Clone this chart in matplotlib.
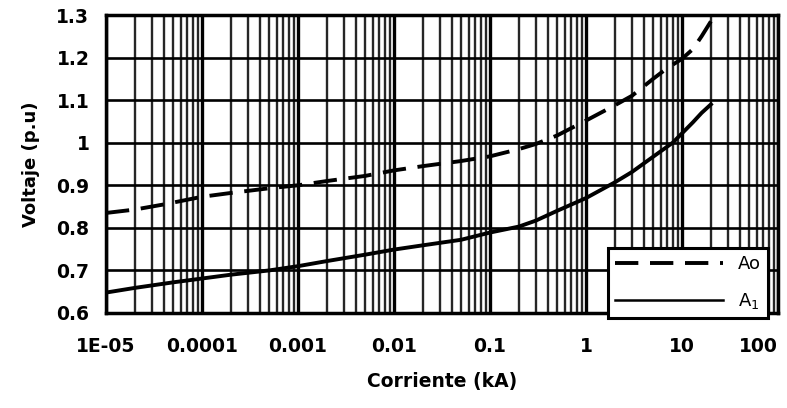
import numpy as np
import matplotlib
matplotlib.use('Agg')
import matplotlib.pyplot as plt
from matplotlib.ticker import LogLocator, NullFormatter, FixedLocator, FixedFormatter

# Data
current_a0 = [1e-5, 2e-5, 4e-5, 7e-5, 1e-4, 2e-4, 5e-4, 1e-3, 2e-3, 5e-3, 1e-2, 2e-2, 5e-2,
              0.1, 0.2, 0.3, 0.5, 1, 2, 3, 5, 7, 10, 13, 16, 20]
voltage_a0 = [0.835, 0.843, 0.855, 0.866, 0.873, 0.882, 0.893, 0.900, 0.910, 0.922, 0.935, 0.945, 0.957,
              0.968, 0.985, 0.997, 1.017, 1.052, 1.088, 1.110, 1.150, 1.175, 1.197, 1.220, 1.250, 1.285]
current_a1 = [1e-5, 2e-5, 5e-5, 1e-4, 2e-4, 5e-4, 1e-3, 2e-3, 5e-3, 1e-2, 2e-2, 5e-2,
              0.1, 0.2, 0.3, 0.5, 1, 2, 3, 5, 8, 10, 13, 16, 20]
voltage_a1 = [0.648, 0.659, 0.672, 0.681, 0.690, 0.700, 0.710, 0.722, 0.737, 0.749, 0.759, 0.772,
              0.789, 0.803, 0.817, 0.840, 0.870, 0.907, 0.931, 0.967, 1.000, 1.022, 1.048, 1.070, 1.090]

x_ticks = [1e-5, 1e-4, 1e-3, 1e-2, 1e-1, 1, 10, 100]
x_tick_labels = ["1E-05", "0.0001", "0.001", "0.01", "0.1", "1", "10", "100"]
y_ticks = [0.6, 0.7, 0.8, 0.9, 1.0, 1.1, 1.2, 1.3]
y_tick_labels = ["0.6", "0.7", "0.8", "0.9", "1", "1.1", "1.2", "1.3"]

fig = plt.figure(figsize=(7.87, 4.08), dpi=100)
ax = fig.add_axes([106/787, 1 - 313/408, 672/787, 298/408])

ax.set_xscale('log')
ax.set_xlim(1e-5, 100)
ax.set_ylim(0.6, 1.3)

ax.xaxis.set_major_locator(FixedLocator(x_ticks))
ax.xaxis.set_major_formatter(FixedFormatter(x_tick_labels))
ax.xaxis.set_minor_locator(LogLocator(base=10, subs=np.arange(2, 10), numticks=100))
ax.xaxis.set_minor_formatter(NullFormatter())
ax.yaxis.set_major_locator(FixedLocator(y_ticks))
ax.yaxis.set_major_formatter(FixedFormatter(y_tick_labels))

ax.grid(True, which='major', axis='x', color='black', linewidth=2.4)
ax.grid(True, which='minor', axis='x', color='#262626', linewidth=1.7)
ax.grid(True, which='major', axis='y', color='black', linewidth=1.9)
ax.set_axisbelow(True)

for s in ax.spines.values():
    s.set_linewidth(2.5)
    s.set_color('black')

ax.tick_params(axis='both', which='both', length=0)
ax.tick_params(axis='x', pad=17, labelsize=13.5)
ax.tick_params(axis='y', pad=12, labelsize=13.5)
for lab in ax.get_xticklabels() + ax.get_yticklabels():
    lab.set_fontweight('bold')
xl = ax.get_xticklabels()
xl[-1].set_horizontalalignment('right')

ax.plot(current_a0, voltage_a0, color='black', linewidth=2.8, linestyle=(0, (6, 3)), label='Ao', zorder=3)
ax.plot(current_a1, voltage_a1, color='black', linewidth=2.8, linestyle='-', label='A$_1$', zorder=3)

ax.set_xlabel('Corriente (kA)', fontsize=13.5, fontweight='bold', labelpad=12)
ax.set_ylabel('Voltaje (p.u)', fontsize=13, fontweight='bold', labelpad=12)

leg = ax.legend(loc='lower right', bbox_to_anchor=(0.985, -0.018), fancybox=False,
                framealpha=1, edgecolor='black', fontsize=13, handlelength=6.0,
                labelspacing=1.0, borderpad=0.4, handletextpad=0.8, borderaxespad=0)
leg.get_frame().set_linewidth(2.2)
lines = leg.get_lines()
lines[1].set_linewidth(1.8)
leg.set_zorder(5)

fig.savefig('out.png', dpi=100)
